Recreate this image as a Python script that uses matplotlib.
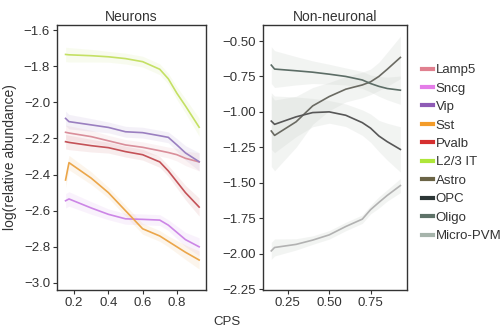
import matplotlib
matplotlib.use("Agg")
import matplotlib.pyplot as plt
from matplotlib.lines import Line2D
import numpy as np

plt.rcParams['font.family'] = ['Liberation Sans', 'DejaVu Sans']

cps = [0.15, 0.17, 0.3, 0.4, 0.5, 0.6, 0.7, 0.75, 0.8, 0.85, 0.93]

# Neurons
neuron_names = ["Lamp5", "Sncg", "Vip", "Sst", "Pvalb", "L2/3 IT"]
lamp5 = [-2.166, -2.17, -2.19, -2.213, -2.236, -2.249, -2.268, -2.278, -2.29, -2.31, -2.33]
sncg = [-2.545, -2.535, -2.585, -2.62, -2.645, -2.648, -2.652, -2.68, -2.72, -2.76, -2.80]
vip = [-2.089, -2.107, -2.125, -2.139, -2.163, -2.168, -2.185, -2.194, -2.236, -2.28, -2.329]
sst = [-2.43, -2.334, -2.42, -2.50, -2.60, -2.70, -2.74, -2.77, -2.80, -2.83, -2.873]
pvalb = [-2.218, -2.222, -2.24, -2.251, -2.273, -2.29, -2.33, -2.38, -2.44, -2.50, -2.58]
l23it = [-1.735, -1.737, -1.742, -1.748, -1.758, -1.775, -1.817, -1.87, -1.95, -2.02, -2.138]
neuron_vals = [lamp5, sncg, vip, sst, pvalb, l23it]
neuron_band = [0.04, 0.04, 0.035, 0.03, 0.03, 0.03, 0.03, 0.03, 0.035, 0.04, 0.05]

# Non-neuronal
glia_names = ["Astro", "OPC", "Oligo", "Micro-PVM"]
astro = [-1.135, -1.166, -1.07, -0.958, -0.892, -0.84, -0.81, -0.788, -0.75, -0.70, -0.616]
opc = [-1.065, -1.088, -1.035, -1.005, -1.0, -1.024, -1.076, -1.115, -1.17, -1.21, -1.265]
oligo = [-0.67, -0.698, -0.71, -0.72, -0.734, -0.75, -0.775, -0.80, -0.82, -0.835, -0.847]
micro = [-1.981, -1.957, -1.935, -1.905, -1.868, -1.809, -1.757, -1.69, -1.639, -1.59, -1.52]
glia_vals = [astro, opc, oligo, micro]
astro_band = [0.25, 0.25, 0.18, 0.13, 0.10, 0.09, 0.09, 0.09, 0.10, 0.12, 0.15]
opc_band = [0.20, 0.20, 0.14, 0.10, 0.08, 0.08, 0.09, 0.10, 0.11, 0.13, 0.16]
oligo_band = [0.13, 0.13, 0.10, 0.08, 0.07, 0.06, 0.06, 0.06, 0.07, 0.08, 0.10]
micro_band = [0.06, 0.06, 0.04, 0.03, 0.03, 0.03, 0.03, 0.03, 0.04, 0.04, 0.05]
glia_bands = [astro_band, opc_band, oligo_band, micro_band]

neuron_colors = ["#e0808f", "#e47de8", "#8e5bb5", "#f39c2a", "#d63030", "#aee63a"]
neuron_line_colors = ["#d98e9a", "#cc86e6", "#9a7fc0", "#eba64a", "#c45258", "#c4e064"]
glia_colors = ["#6b6446", "#2b3535", "#5e7268", "#a6b4ab"]
glia_line_colors = ["#6a6a62", "#575757", "#5c6d66", "#b2b2b2"]

fig = plt.figure(figsize=(5.03, 3.31), dpi=100)
ax1 = fig.add_axes([57/503, 1-290/331, 149/503, 265/331])
ax2 = fig.add_axes([263/503, 1-290/331, 144/503, 265/331])

x = np.array(cps)
for vals, lc in zip(neuron_vals, neuron_line_colors):
    v = np.array(vals)
    b = np.array(neuron_band)
    ax1.fill_between(x, v - b, v + b, color=lc, alpha=0.10, lw=0)
    ax1.plot(x, v, color=lc, lw=1.2)

for vals, band, lc in zip(glia_vals, glia_bands, glia_line_colors):
    v = np.array(vals)
    b = np.array(band)
    ax2.fill_between(x, v - b, v + b, color="#c8cec8", alpha=0.22, lw=0)
    ax2.plot(x, v, color=lc, lw=1.2)

tc = "#333333"
for ax in (ax1, ax2):
    ax.set_xlim(0.1, 0.97)
    for s in ax.spines.values():
        s.set_color(tc)
        s.set_linewidth(1.0)
    ax.tick_params(labelsize=9.5, colors=tc, length=3, width=0.8, pad=2)

ax1.set_ylim(-3.039, -1.572)
ax1.set_yticks([-1.6, -1.8, -2.0, -2.2, -2.4, -2.6, -2.8, -3.0])
ax1.set_xticks([0.2, 0.4, 0.6, 0.8])
ax2.set_ylim(-2.257, -0.387)
ax2.set_yticks([-0.5, -0.75, -1.0, -1.25, -1.5, -1.75, -2.0, -2.25])
ax2.set_yticklabels(["\u22120.50", "\u22120.75", "\u22121.00", "\u22121.25", "\u22121.50", "\u22121.75", "\u22122.00", "\u22122.25"])
ax2.set_xticks([0.25, 0.5, 0.75])
ax2.set_xticklabels(["0.25", "0.50", "0.75"])

ax1.set_title("Neurons", fontsize=10, color=tc, pad=3)
ax2.set_title("Non-neuronal", fontsize=10, color=tc, pad=3)
ax1.set_ylabel("log(relative abundance)", fontsize=10, color=tc)
ax1.yaxis.set_label_coords(-40/149, 0.5)
fig.text(227/503, 1-322/331, "CPS", fontsize=9.5, color=tc, ha="center", va="center")

handles = [Line2D([0], [0], color=c, lw=3) for c in neuron_colors + glia_colors]
labels = neuron_names + glia_names
fig.legend(handles, labels, loc="upper left", bbox_to_anchor=(422/503, 1-64/331),
           frameon=False, fontsize=9.5, handlelength=0.85, handletextpad=0.2,
           labelspacing=0.47, borderaxespad=0, borderpad=0, labelcolor=tc)

fig.savefig("out.png", dpi=100)
